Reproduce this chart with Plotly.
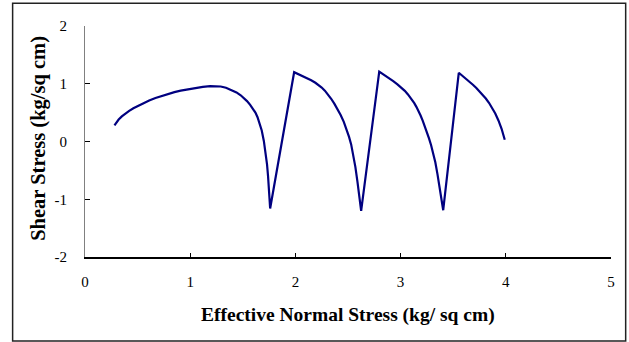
import plotly.graph_objects as go

# Effective normal stress (kg/sq cm)
normal_stress = [
    0.28, 0.30, 0.32, 0.35, 0.38, 0.42, 0.46, 0.51, 0.56, 0.61, 0.67, 0.73, 0.79, 0.85,
    0.91, 0.98, 1.05, 1.12, 1.19, 1.24, 1.29, 1.34, 1.39, 1.44, 1.48, 1.51, 1.54, 1.57,
    1.60, 1.62, 1.64, 1.66, 1.68, 1.70, 1.71, 1.72, 1.73, 1.74, 1.75, 1.76,
    1.988, 2.03, 2.07, 2.11, 2.15, 2.19, 2.22, 2.25, 2.28, 2.31, 2.34, 2.37, 2.40, 2.43,
    2.46, 2.49, 2.51, 2.53, 2.55, 2.57, 2.59, 2.605, 2.625,
    2.797, 2.84, 2.88, 2.93, 2.97, 3.01, 3.04, 3.07, 3.10, 3.13, 3.15, 3.17, 3.19, 3.21,
    3.23, 3.25, 3.27, 3.29, 3.31, 3.33, 3.35, 3.37, 3.385, 3.405,
    3.553, 3.59, 3.63, 3.66, 3.69, 3.72, 3.75, 3.78, 3.81, 3.84, 3.87, 3.90, 3.93, 3.96,
    3.99,
]
# Shear stress (kg/sq cm)
shear_stress = [
    0.28, 0.335, 0.38, 0.435, 0.48, 0.53, 0.575, 0.625, 0.67, 0.71, 0.752, 0.79, 0.824, 0.854,
    0.88, 0.906, 0.928, 0.946, 0.958, 0.96, 0.952, 0.93, 0.895, 0.85, 0.80, 0.755, 0.70, 0.635,
    0.56, 0.50, 0.42, 0.32, 0.19, 0.01, -0.10, -0.23, -0.39, -0.60, -0.86, -1.16,
    1.20, 1.165, 1.135, 1.10, 1.06, 1.017, 0.98, 0.935, 0.88, 0.815, 0.74, 0.655, 0.565, 0.46,
    0.34, 0.19, 0.08, -0.05, -0.23, -0.44, -0.70, -0.92, -1.20,
    1.21, 1.16, 1.11, 1.045, 0.99, 0.928, 0.877, 0.815, 0.745, 0.665, 0.60, 0.53, 0.45, 0.36,
    0.265, 0.165, 0.055, -0.065, -0.20, -0.36, -0.56, -0.78, -0.96, -1.19,
    1.19, 1.135, 1.075, 1.028, 0.978, 0.925, 0.87, 0.81, 0.745, 0.67, 0.585, 0.485, 0.365, 0.22,
    0.03,
]

x_ticks = [0, 1, 2, 3, 4, 5]
y_ticks = [-2, -1, 0, 1, 2]

FONT = "Liberation Serif, Times New Roman, serif"

fig = go.Figure()
fig.add_trace(go.Scatter(
    x=normal_stress, y=shear_stress, mode="lines",
    line=dict(color="#000080", width=2.2),
    hoverinfo="skip", showlegend=False,
))

fig.update_layout(
    width=629, height=342,
    margin=dict(l=85, r=18, t=26, b=85),
    paper_bgcolor="white", plot_bgcolor="white",
    font=dict(family=FONT, color="black", size=15),
    xaxis=dict(
        range=[0, 5], tickvals=x_ticks, ticktext=[str(v) for v in x_ticks],
        showgrid=False, zeroline=False,
        showline=True, linecolor="black", linewidth=1.5,
        ticks="inside", ticklen=4, tickcolor="black", tickwidth=1,
        tickfont=dict(family=FONT, size=15),
        ticklabelstandoff=10,
    ),
    yaxis=dict(
        range=[-2, 2], tickvals=y_ticks, ticktext=[str(v) for v in y_ticks],
        showgrid=False, zeroline=False,
        showline=True, linecolor="#808080", linewidth=1,
        ticks="inside", ticklen=5, tickcolor="black", tickwidth=1,
        tickfont=dict(family=FONT, size=15),
        ticklabelstandoff=14,
    ),
    annotations=[
        dict(text="<b>Effective Normal Stress (kg/ sq cm)</b>", xref="paper", yref="paper",
             x=0.5, y=-0.251, xanchor="center", yanchor="middle", showarrow=False,
             font=dict(family=FONT, size=19.5)),
        dict(text="<b>Shear Stress (kg/sq cm)</b>", xref="paper", yref="paper",
             x=-0.0883, y=0.514, xanchor="center", yanchor="middle", showarrow=False,
             textangle=-90, font=dict(family=FONT, size=20.5)),
    ],
    shapes=[dict(
        type="rect", xref="paper", yref="paper",
        x0=-0.1376, x1=1.0279, y0=-0.364, y1=1.098,
        line=dict(color="#222222", width=1.5), fillcolor="rgba(0,0,0,0)",
        layer="below",
    )],
)

fig.write_html("out.html")
